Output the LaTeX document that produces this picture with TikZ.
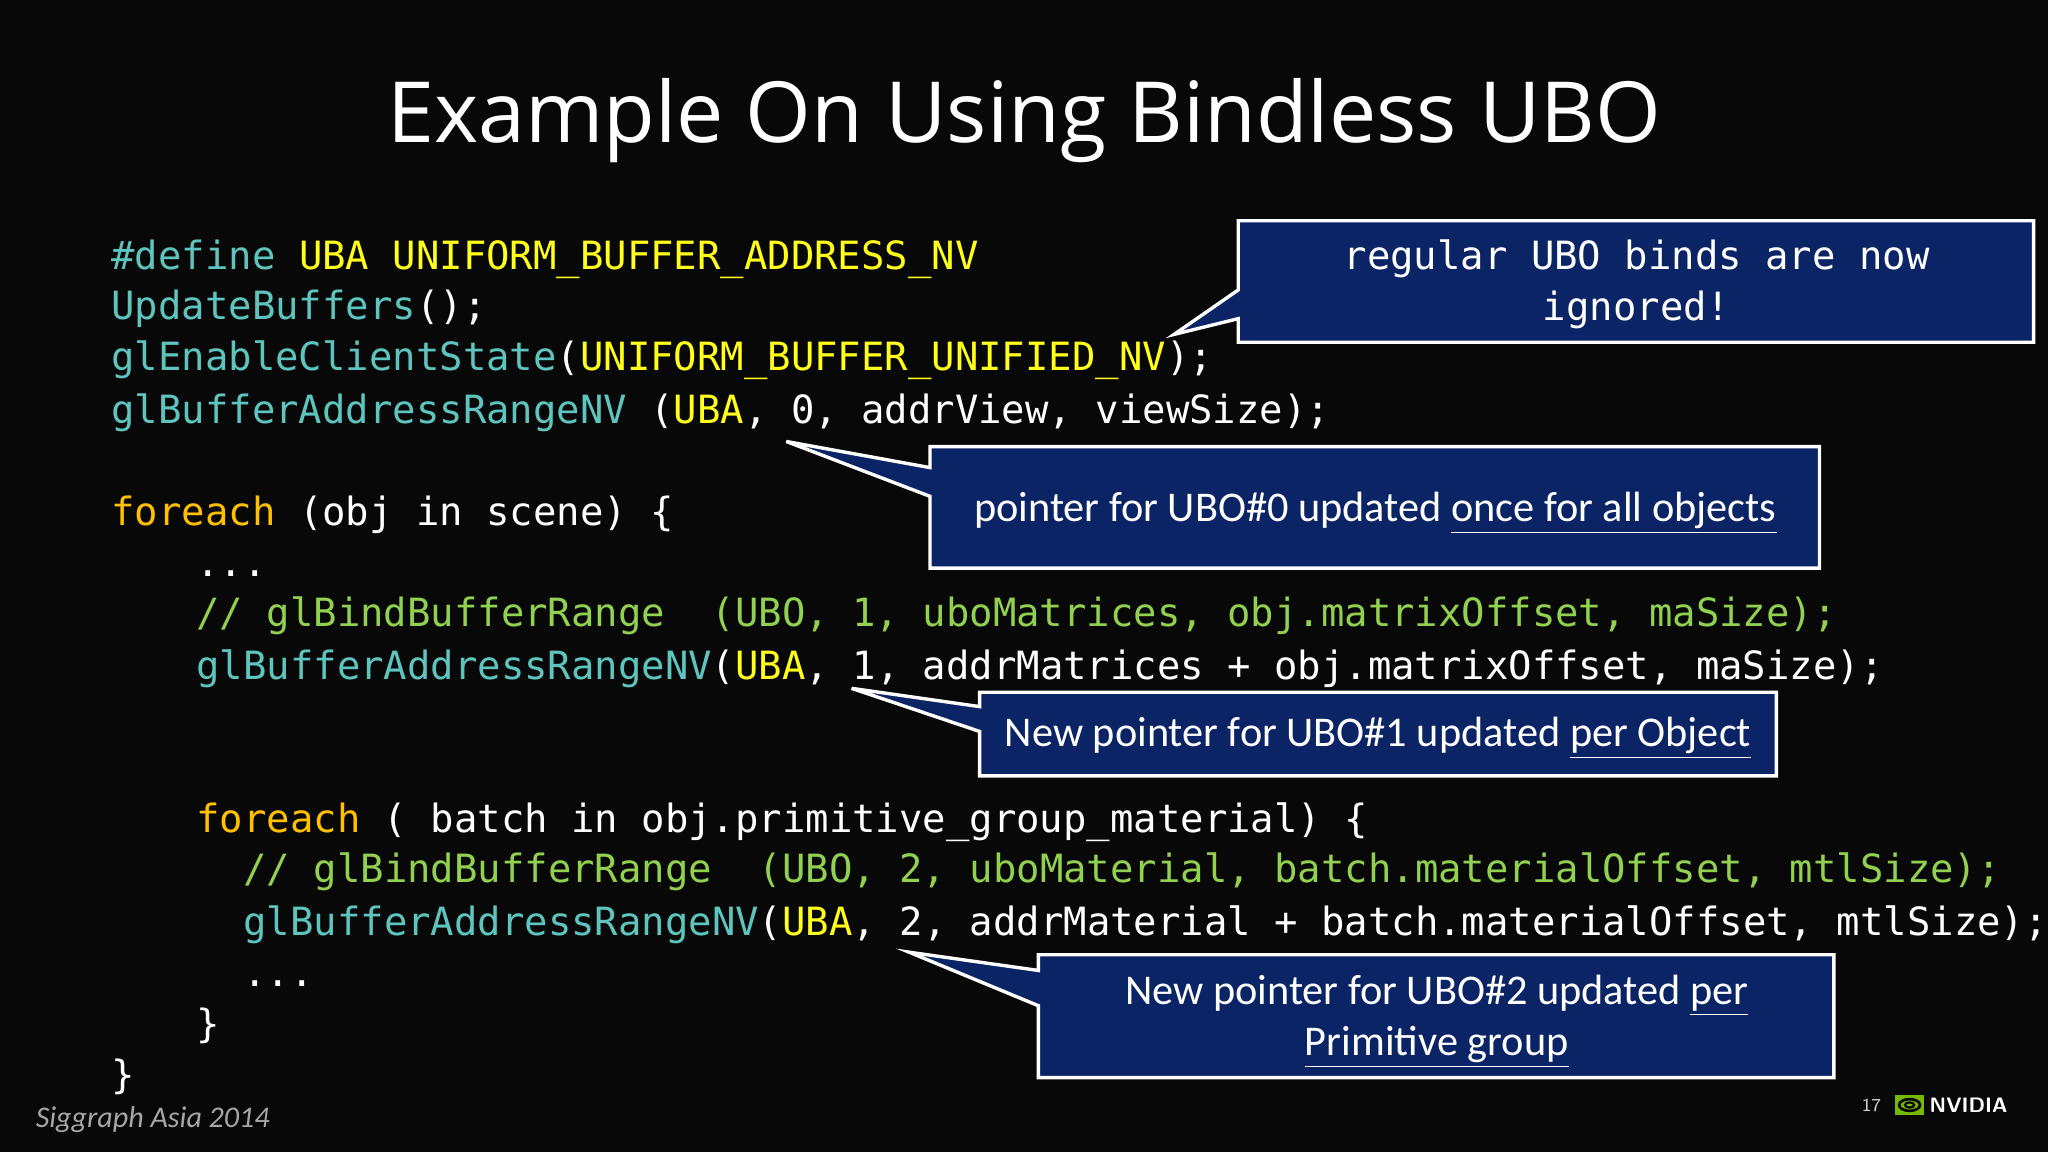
\documentclass[tikz,border=0pt]{standalone}
\usepackage{fontspec}
\setmainfont{Carlito}
\newfontfamily\codefont{DejaVu Sans Mono}
\newfontfamily\titlefont{Open Sans}
\definecolor{kteal}{HTML}{5EC5BE}
\definecolor{kyel}{HTML}{FFFF1A}
\definecolor{korg}{HTML}{FFC000}
\definecolor{kgrn}{HTML}{92D050}
\definecolor{navy}{HTML}{0B2466}
\definecolor{nvgreen}{HTML}{76B900}
\newcommand\kT[1]{\textcolor{kteal}{#1}}
\newcommand\kY[1]{\textcolor{kyel}{#1}}
\newcommand\kO[1]{\textcolor{korg}{#1}}
\newcommand\kG[1]{\textcolor{kgrn}{#1}}
\tikzset{
 code/.style={anchor=base west,inner sep=0pt,text=white,font=\codefont\fontsize{14.9}{19}\selectfont},
 callout/.style={fill=navy,draw=white,line width=1.3pt,line join=miter},
 ctext/.style={text=white,font=\fontsize{16.2}{19.5}\selectfont,align=center,inner sep=0pt},
}
\begin{document}
\begin{tikzpicture}[x=0.5pt,y=-0.5pt]
\fill[black!97!white] (0,0) rectangle (1568,882);
\useasboundingbox (0,0) rectangle (1568,882);
\node[text=white,font=\titlefont\fontsize{32.3}{40}\selectfont,inner sep=0pt] (title) at (784,92) {Example On Using Bindless UBO};
% code
\node[code] (l1) at (85,206) {\kT{\#define} \kY{UBA UNIFORM\_BUFFER\_ADDRESS\_NV}};
\node[code] (l2) at (85,245) {\kT{UpdateBuffers}();};
\node[code] (l3) at (85,284) {\kT{glEnableClientState}(\kY{UNIFORM\_BUFFER\_UNIFIED\_NV});};
\node[code] (l4) at (85,324) {\kT{glBufferAddressRangeNV} (\kY{UBA}, 0, addrView, viewSize);};
\node[code] (l5) at (85,402) {\kO{foreach} (obj in scene) \{};
\node[code] (l6) at (150,441) {...};
\node[code] (l7) at (150,480) {\kG{// glBindBufferRange\ \ (UBO, 1, uboMatrices, obj.matrixOffset, maSize);}};
\node[code] (l8) at (150,520) {\kT{glBufferAddressRangeNV}(\kY{UBA}, 1, addrMatrices + obj.matrixOffset, maSize);};
\node[code] (l9) at (150,637) {\kO{foreach} ( batch in obj.primitive\_group\_material) \{};
\node[code] (l10) at (186,676) {\kG{// glBindBufferRange\ \ (UBO, 2, uboMaterial, batch.materialOffset, mtlSize);}};
\node[code] (l11) at (186,716) {\kT{glBufferAddressRangeNV}(\kY{UBA}, 2, addrMaterial + batch.materialOffset, mtlSize);};
\node[code] (l12) at (186,755) {...};
\node[code] (l13) at (150,794) {\}};
\node[code] (l14) at (85,833) {\}};
% callouts
\draw[callout] (948,169) -- (1557,169) -- (1557,262) -- (948,262) -- (948,244) -- (899,256) -- (948,222) -- cycle;
\node[ctext,font=\codefont\fontsize{14.9}{19.5}\selectfont] (c1) at (1253,218) {regular UBO binds are now\\ignored!};
\draw[callout] (712,342) -- (1393,342) -- (1393,435) -- (712,435) -- (712,380) -- (602,338) -- (712,358) -- cycle;
\node[ctext] (c2) at (1053,393) {pointer for UBO\#0 updated \underline{once for all objects}};
\draw[callout] (750,530) -- (1360,530) -- (1360,594) -- (750,594) -- (750,560) -- (652,527) -- (750,541) -- cycle;
\node[ctext] (c3) at (1055,565) {New pointer for UBO\#1 updated \underline{per Object}};
\draw[callout] (795,731) -- (1404,731) -- (1404,825) -- (795,825) -- (795,770) -- (696,729) -- (795,743) -- cycle;
\node[ctext] (c4) at (1100,782) {New pointer for UBO\#2 updated \underline{per}\\\underline{Primitive group}};
% footer
\node[anchor=west,text=white!65!black,font=\itshape\fontsize{11.5}{13}\selectfont,inner sep=0pt] (sig) at (27,857) {Siggraph Asia 2014};
\node[anchor=west,text=white!80!black,font=\sffamily\fontsize{7}{8}\selectfont,inner sep=0pt] (pg) at (1425,846) {17};
\fill[nvgreen] (1451,838) rectangle (1473,854);
\draw[black,line width=1pt] (1462,846) ellipse (8 and 4.5);
\draw[black,line width=0.8pt] (1462,846) ellipse (3.5 and 2);
\node[anchor=west,text=white,font=\sffamily\bfseries\fontsize{8}{9}\selectfont,inner sep=0pt] (nv) at (1477,846) {NVIDIA};
\end{tikzpicture}
\end{document}
